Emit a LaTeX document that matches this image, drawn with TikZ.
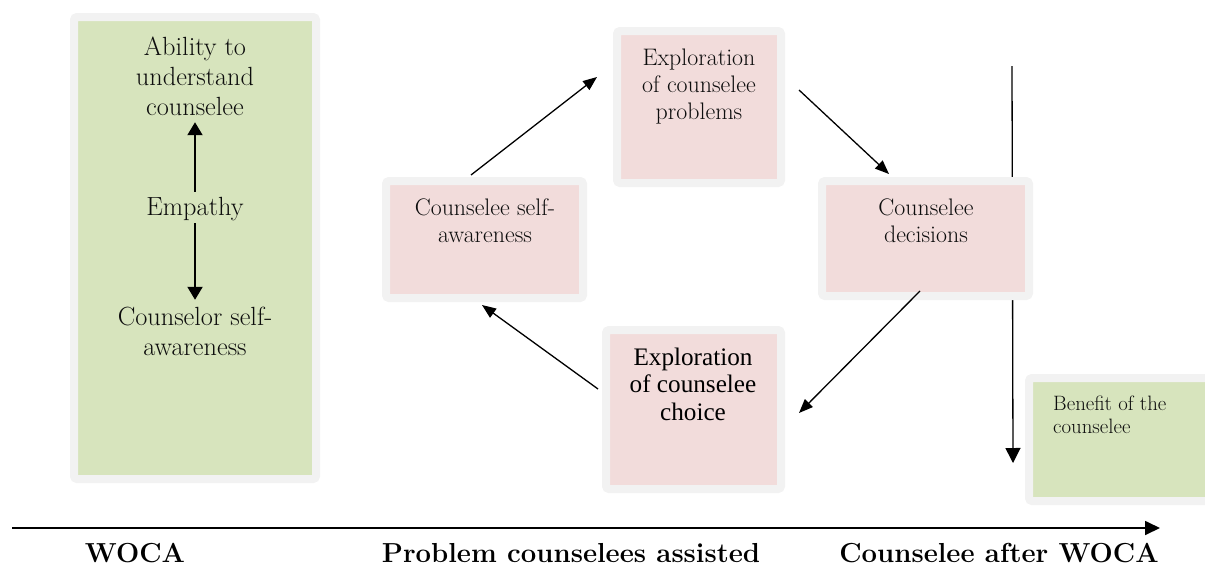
\documentclass[tikz,border=0pt]{standalone}
\usepackage{fontspec}
\newfontfamily\timesfont{Liberation Serif}
\usetikzlibrary{arrows.meta}
\definecolor{boxgreen}{HTML}{D7E4BD}
\definecolor{boxpink}{HTML}{F2DCDB}
\definecolor{boxrim}{HTML}{F2F2F2}
\definecolor{inktext}{HTML}{0D0D0D}
\begin{document}
\begin{tikzpicture}[x=1pt,y=-1pt,
  panel/.style={draw=boxrim, line width=8pt, rounded corners=3pt, inner sep=0pt},
  greenpanel/.style={panel, fill=boxgreen},
  pinkpanel/.style={panel, fill=boxpink},
  bigtxt/.style={anchor=base, inner sep=0pt, text=inktext, font=\fontsize{26.3}{30}\selectfont},
  midtxt/.style={anchor=base, inner sep=0pt, text=inktext, font=\fontsize{23.9}{27.3}\selectfont},
  timestxt/.style={anchor=base, inner sep=0pt, text=black, font=\timesfont\fontsize{25.2}{27.5}\selectfont},
  smalltxt/.style={anchor=base west, inner sep=0pt, text=inktext, font=\fontsize{20.8}{23}\selectfont},
  axlbl/.style={anchor=base, inner sep=0pt, text=black, font=\bfseries\fontsize{27.5}{30}\selectfont},
  cyc/.style={-{Triangle[length=14pt,width=11pt]}, line width=1.3pt},
  dblarrow/.style={-{Triangle[length=13pt,width=15pt]}, line width=2pt},
  vline/.style={-{Triangle[length=15pt,width=15pt]}, line width=1.3pt},
  axis/.style={-{Triangle[length=15pt,width=14pt]}, line width=1.7pt}]
\useasboundingbox (0,0) rectangle (1205,565);

% vertical line on the right (behind the decisions box)
\coordinate (vt) at (1012,66);
\coordinate (vb) at (1013,463);
\draw[vline] (vt) -- (vb);

% panels
\node[greenpanel, minimum width=242pt, minimum height=462pt] (lb) at (195,248) {};
\node[pinkpanel, minimum width=197pt, minimum height=117pt] (sa) at (484.5,239.5) {};
\node[pinkpanel, minimum width=164pt, minimum height=152pt] (pb) at (699,107) {};
\node[pinkpanel, minimum width=207pt, minimum height=115pt] (dc) at (925.5,238.5) {};
\node[pinkpanel, minimum width=175pt, minimum height=159pt] (ch) at (693.5,409.5) {};
\node[greenpanel, minimum width=187pt, minimum height=123pt] (bn) at (1122.5,439.5) {};

% texts in left panel
\node[bigtxt] (abil) at (195,55) {\begin{tabular}[t]{@{}c@{}}Ability to\\understand\\counselee\end{tabular}};
\node[bigtxt] (emp) at (195,215) {\strut Empathy};
\node[bigtxt] (con) at (195,325) {\begin{tabular}[t]{@{}c@{}}Counselor self-\\awareness\end{tabular}};

% texts in cycle boxes
\node[midtxt] (satxt) at (485,215) {\begin{tabular}[t]{@{}c@{}}Counselee self-\\awareness\end{tabular}};
\node[midtxt] (pbtxt) at (699,65) {\begin{tabular}[t]{@{}c@{}}Exploration\\of counselee\\problems\end{tabular}};
\node[midtxt] (dctxt) at (926,215) {\begin{tabular}[t]{@{}c@{}}Counselee\\decisions\end{tabular}};
\node[timestxt] (chtxt) at (693,365) {\begin{tabular}[t]{@{}c@{}}Exploration\\of counselee\\choice\end{tabular}};
\node[smalltxt] (bntxt) at (1053,410) {\begin{tabular}[t]{@{}l@{}}Benefit of the\\counselee\end{tabular}};

% arrows in left panel
\draw[dblarrow] ([yshift=2pt]emp.north) -- ([yshift=2pt]abil.south);
\draw[dblarrow] ([yshift=1pt]emp.south) -- ([yshift=4pt]con.north);

% cycle arrows
\draw[cyc] ([xshift=-13.5pt,yshift=2pt]sa.north) -- ([xshift=-16pt,yshift=30pt]pb.west);
\draw[cyc] ([xshift=14pt,yshift=17pt]pb.east) -- ([xshift=-36.5pt,yshift=3pt]dc.north);
\draw[cyc] ([xshift=-5.5pt,yshift=9pt]dc.south) -- ([xshift=14pt,yshift=-3.5pt]ch.east);
\draw[cyc] ([xshift=-4pt,yshift=20.5pt]ch.west) -- ([xshift=-2.5pt,yshift=-3pt]sa.south);

% bottom axis
\coordinate (axs) at (12,528);
\coordinate (axe) at (1160,528);
\draw[axis] (axs) -- (axe);
\node[axlbl] (woca) at (135,562) {WOCA};
\node[axlbl] (prob) at (571,562) {Problem counselees assisted};
\node[axlbl] (after) at (999,562) {Counselee after WOCA};
\end{tikzpicture}
\end{document}
